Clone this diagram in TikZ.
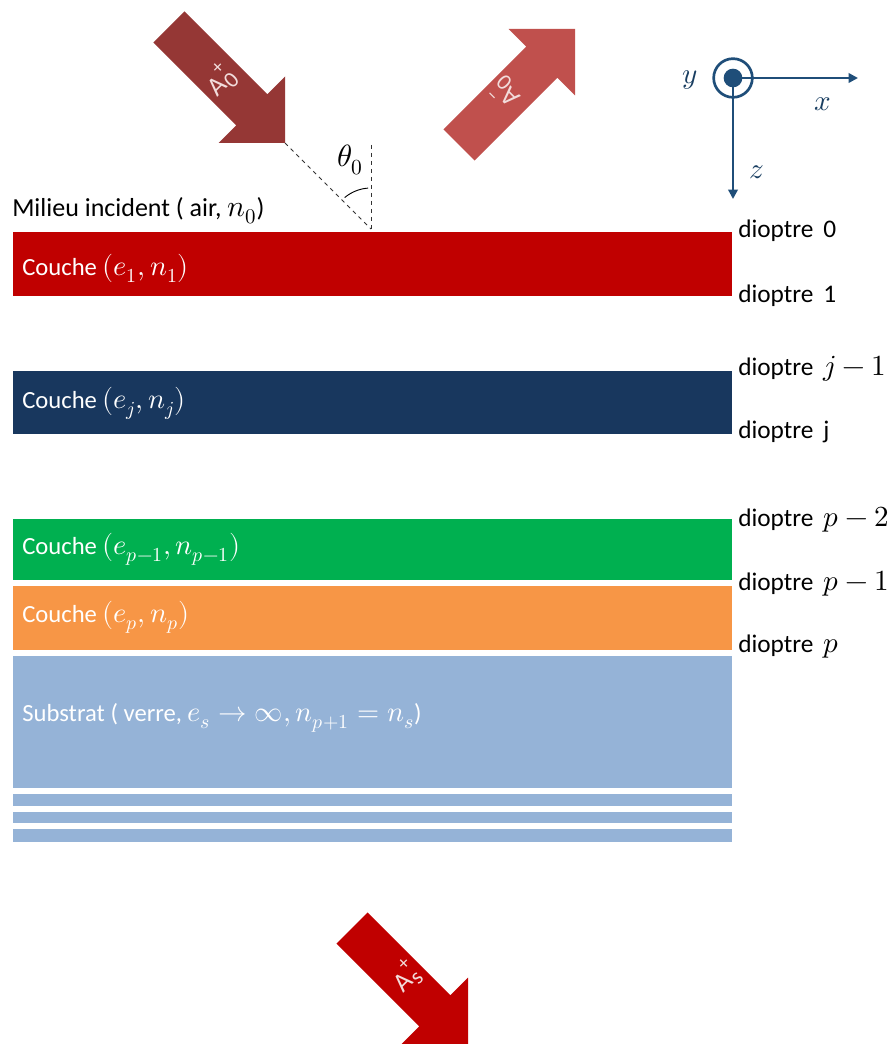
\documentclass[tikz,border=0pt]{standalone}
\usepackage{fontspec}
\usepackage{unicode-math}
\setmainfont{Carlito}
\setsansfont{Carlito}
\setmathfont{Latin Modern Math}[Scale=1.15]
\usetikzlibrary{arrows.meta}
\definecolor{redlayer}{HTML}{C00000}
\definecolor{navylayer}{HTML}{18375E}
\definecolor{greenlayer}{HTML}{00B050}
\definecolor{orangelayer}{HTML}{F79646}
\definecolor{subst}{HTML}{95B3D7}
\definecolor{arrowA}{HTML}{953735}
\definecolor{arrowB}{HTML}{C0504D}
\definecolor{axisblue}{HTML}{1F4E79}
\definecolor{arrowtext}{HTML}{F2DCDB}
\newcommand{\amplabel}[2]{A\kern0.5pt\makebox[0pt][l]{\raisebox{0.55em}{\fontsize{15}{15}\selectfont #2}}\raisebox{-0.18em}{\fontsize{17}{17}\selectfont #1}}
\begin{document}
\begin{tikzpicture}[x=0.75pt,y=-0.75pt,
  layer/.style={draw=white,line width=0.6pt},
  laytext/.style={anchor=west,inner sep=0pt,text=white,font=\fontsize{18.5}{20}\selectfont},
  diolabel/.style={anchor=west,inner sep=0pt,text=black,font=\fontsize{19}{20}\selectfont},
  arrlabel/.style={inner sep=0pt,text=arrowtext,font=\sffamily\fontsize{20}{20}\selectfont},
  axis/.style={draw=axisblue,line width=2pt,-{Triangle[length=7pt,width=7pt]}},
  axlabel/.style={inner sep=0pt,text=axisblue!80!black,font=\fontsize{19}{20}\selectfont}
]
\useasboundingbox (0,0) rectangle (892,1044);
\fill[white] (0,0) rectangle (892,1044);
\begin{scope}
\clip (0,0) rectangle (892,1044);

% layers
\path[layer,fill=redlayer] (12,231) rectangle (732,296);
\path[layer,fill=navylayer] (12,370) rectangle (732,434);
\path[layer,fill=greenlayer] (12,518) rectangle (732,580);
\path[layer,fill=orangelayer] (12,585) rectangle (732,650);
\path[layer,fill=subst] (12,655) rectangle (732,788);
\path[layer,fill=subst] (12,793) rectangle (732,806);
\path[layer,fill=subst] (12,811) rectangle (732,823);
\path[layer,fill=subst] (12,828) rectangle (732,842);

% layer texts
\node[laytext] (c1) at (22,268) {Couche $(e_1,n_1)$};
\node[laytext] (cj) at (22,403) {Couche $(e_j,n_j)$};
\node[laytext] (cp1) at (22,549) {Couche $(e_{p-1},n_{p-1})$};
\node[laytext] (cp) at (22,617) {Couche $(e_p,n_p)$};
\node[laytext] (cs) at (22,718) {Substrat ( verre, $e_s\to\infty, n_{p+1}=n_s$)};

\node[anchor=west,inner sep=0pt,font=\fontsize{19.5}{20}\selectfont] (mil) at (12,211) {Milieu incident ( air, $n_0$)};

% dioptre labels
\node[diolabel] (d0) at (738,231) {dioptre\, 0};
\node[diolabel] (d1) at (738,296) {dioptre\, 1};
\node[diolabel] (dj1) at (738,369) {dioptre\, $j-1$};
\node[diolabel] (dj) at (738,432) {dioptre\, j};
\node[diolabel] (dp2) at (738,520) {dioptre\, $p-2$};
\node[diolabel] (dp1) at (738,584) {dioptre\, $p-1$};
\node[diolabel] (dp) at (738,647) {dioptre\, $p$};

% incident arrow A0+
\fill[arrowA] (184.6,11.4) -- (267.4,94.2) -- (285,76.5) -- (285,143) -- (218.5,143) -- (236.2,125.4) -- (153.4,42.6) -- cycle;
\node[arrlabel,rotate=45] (a0p) at (220,80) {\amplabel{0}{+}};

% reflected arrow A0-
\fill[arrowB] (443.4,129.4) -- (526.2,46.6) -- (508.6,29) -- (575,29) -- (575,95.4) -- (557.4,77.8) -- (474.6,160.6) -- cycle;
\node[arrlabel,rotate=135] (a0m) at (506,92) {\amplabel{0}{--}};

% transmitted arrow As+
\fill[redlayer] (367.6,912.4) -- (450.4,995.2) -- (468,977.6) -- (468,1044) -- (401.6,1044) -- (419.2,1026.4) -- (336.4,943.6) -- cycle;
\node[arrlabel,rotate=45] (asp) at (405,977) {\amplabel{s}{+}};

% angle
\coordinate (tipA) at (285,143);
\coordinate (inc) at (371,229);
\coordinate (vtop) at (371,145);
\draw[dashed,line width=0.7pt,black!80] (tipA) -- (inc);
\draw[dashed,line width=0.7pt,black!80] (vtop) -- (inc);
\draw[line width=0.7pt] ([shift={(266:41)}]inc) arc[start angle=266,end angle=230,radius=41];
\node[inner sep=0pt,font=\fontsize{20}{22}\selectfont] (theta) at (350,160) {$\theta_0$};

% axes
\coordinate (O) at (733,78);
\coordinate (xend) at (858,78);
\coordinate (zend) at (733,199);
\draw[draw=axisblue,line width=2pt] (O) circle[radius=14.5pt];
\fill[axisblue] (O) circle[radius=7pt];
\draw[axis] (O) -- (xend);
\draw[axis] (O) -- (zend);
\node[axlabel] (ylab) at (690,80) {$y$};
\node[axlabel] (xlab) at (823,104) {$x$};
\node[axlabel] (zlab) at (757,172) {$z$};
\end{scope}
\end{tikzpicture}
\end{document}
